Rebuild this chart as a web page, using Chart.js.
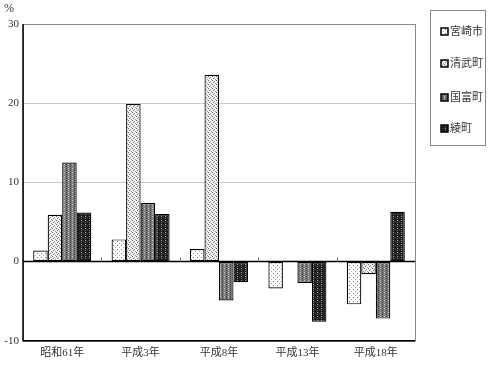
<!DOCTYPE html>
<html>
<head>
<meta charset="utf-8">
<script src="https://cdn.jsdelivr.net/npm/chart.js@4"></script>
<style>
  body { margin: 0; background: #fff; }
  #wrap { width: 490px; height: 370px; }
</style>
</head>
<body>
<div id="wrap"><canvas id="c" width="490" height="370"></canvas></div>
<script>
const years = ['昭和61年', '平成3年', '平成8年', '平成13年', '平成18年'];
const miyazaki = [1.4, 2.8, 1.6, -3.4, -5.4];
const kiyotake = [5.9, 19.9, 23.6, 0.1, -1.6];
const kunitomi = [12.5, 7.4, -4.9, -2.7, -7.2];
const aya = [6.2, 6.0, -2.6, -7.6, 6.3];
const seriesNames = ['宮崎市', '清武町', '国富町', '綾町'];
const yTicks = [-10, 0, 10, 20, 30];

const FONT = '"Liberation Serif", "Noto Sans CJK JP", serif';

// small tiled fills to mimic the printed hatching
function makePattern(bg, dots, size) {
    const c = document.createElement('canvas');
    c.width = size; c.height = size;
    const g = c.getContext('2d');
    g.fillStyle = bg;
    g.fillRect(0, 0, size, size);
    dots.forEach(d => {
        g.fillStyle = d[2];
        g.fillRect(d[0], d[1], 1, 1);
    });
    return g.createPattern(c, 'repeat');
}

const fills = [
    makePattern('#ffffff', [[1, 1, '#777'], [3, 3, '#aaa']], 4),
    makePattern('#f0f0f0', [[0, 0, '#666'], [2, 1, '#999'], [1, 2, '#777'], [3, 3, '#999']], 4),
    makePattern('#7a7a7a', [[0, 0, '#ccc'], [2, 2, '#333'], [2, 0, '#444'], [0, 2, '#aaa']], 4),
    makePattern('#1e1e1e', [[1, 0, '#aaa'], [1, 2, '#777'], [3, 1, '#444']], 4)
];

const seriesData = [miyazaki, kiyotake, kunitomi, aya];

const frame = {
    id: 'frame',
    beforeDatasetsDraw(chart) {
        const { ctx, chartArea: a, scales } = chart;
        ctx.save();
        ctx.strokeStyle = '#888';
        ctx.lineWidth = 1;
        ctx.strokeRect(a.left + 0.5, a.top + 0.5, a.right - a.left, a.bottom - a.top);
        ctx.strokeStyle = '#000';
        ctx.lineWidth = 1.5;
        ctx.beginPath();
        ctx.moveTo(a.left, a.top);
        ctx.lineTo(a.left, a.bottom);
        ctx.lineTo(a.right, a.bottom);
        const y0 = scales.y.getPixelForValue(0);
        ctx.moveTo(a.left, y0);
        ctx.lineTo(a.right, y0);
        ctx.stroke();
        // small category separators on the zero line
        const step = (a.right - a.left) / years.length;
        ctx.lineWidth = 1;
        ctx.strokeStyle = '#777';
        ctx.beginPath();
        for (let i = 1; i < years.length; i++) {
            const x = Math.round(a.left + step * i) + 0.5;
            ctx.moveTo(x, y0);
            ctx.lineTo(x, y0 - 4);
        }
        ctx.stroke();
        ctx.restore();
    },
    afterDraw(chart) {
        const { ctx } = chart;
        ctx.save();
        // unit label
        ctx.fillStyle = '#333';
        ctx.font = '12px ' + FONT;
        ctx.textBaseline = 'top';
        ctx.fillText('%', 4, 3);
        // legend box
        ctx.strokeStyle = '#888';
        ctx.lineWidth = 1;
        ctx.strokeRect(430.5, 10.5, 55, 135);
        const ys = [31, 63, 97, 128];
        ctx.textBaseline = 'middle';
        chart.data.datasets.forEach((ds, i) => {
            ctx.fillStyle = ds.backgroundColor;
            ctx.fillRect(441, ys[i] - 3, 7, 7);
            ctx.strokeStyle = '#000';
            ctx.lineWidth = 1.5;
            ctx.strokeRect(441, ys[i] - 3, 7, 7);
            ctx.fillStyle = '#333';
            ctx.font = '11px ' + FONT;
            ctx.fillText(ds.label, 450, ys[i] + 1);
        });
        ctx.restore();
    }
};

new Chart(document.getElementById('c'), {
    type: 'bar',
    data: {
        labels: years,
        datasets: seriesNames.map((name, i) => ({
            label: name,
            data: seriesData[i],
            backgroundColor: fills[i],
            borderColor: '#000',
            borderWidth: 1.2,
            borderSkipped: false,
            categoryPercentage: 0.74,
            barPercentage: 1.0
        }))
    },
    options: {
        responsive: false,
        animation: false,
        layout: { padding: { top: 24, right: 75, left: 0, bottom: 4 } },
        plugins: {
            legend: { display: false },
            tooltip: { enabled: false }
        },
        scales: {
            x: {
                grid: { display: false, drawTicks: false },
                border: { display: false },
                ticks: { color: '#333', font: { family: FONT, size: 11 }, padding: 6, maxRotation: 0 }
            },
            y: {
                min: -10,
                max: 30,
                afterFit(scale) { scale.width = 23; },
                afterBuildTicks(scale) { scale.ticks = yTicks.map(v => ({ value: v })); },
                grid: {
                    color: ctx => (ctx.tick && (ctx.tick.value === 10 || ctx.tick.value === 20)) ? '#c8c8c8' : 'rgba(0,0,0,0)',
                    drawTicks: false
                },
                border: { display: false },
                ticks: { color: '#333', font: { family: FONT, size: 11 }, padding: 4 }
            }
        }
    },
    plugins: [frame]
});
</script>
</body>
</html>
